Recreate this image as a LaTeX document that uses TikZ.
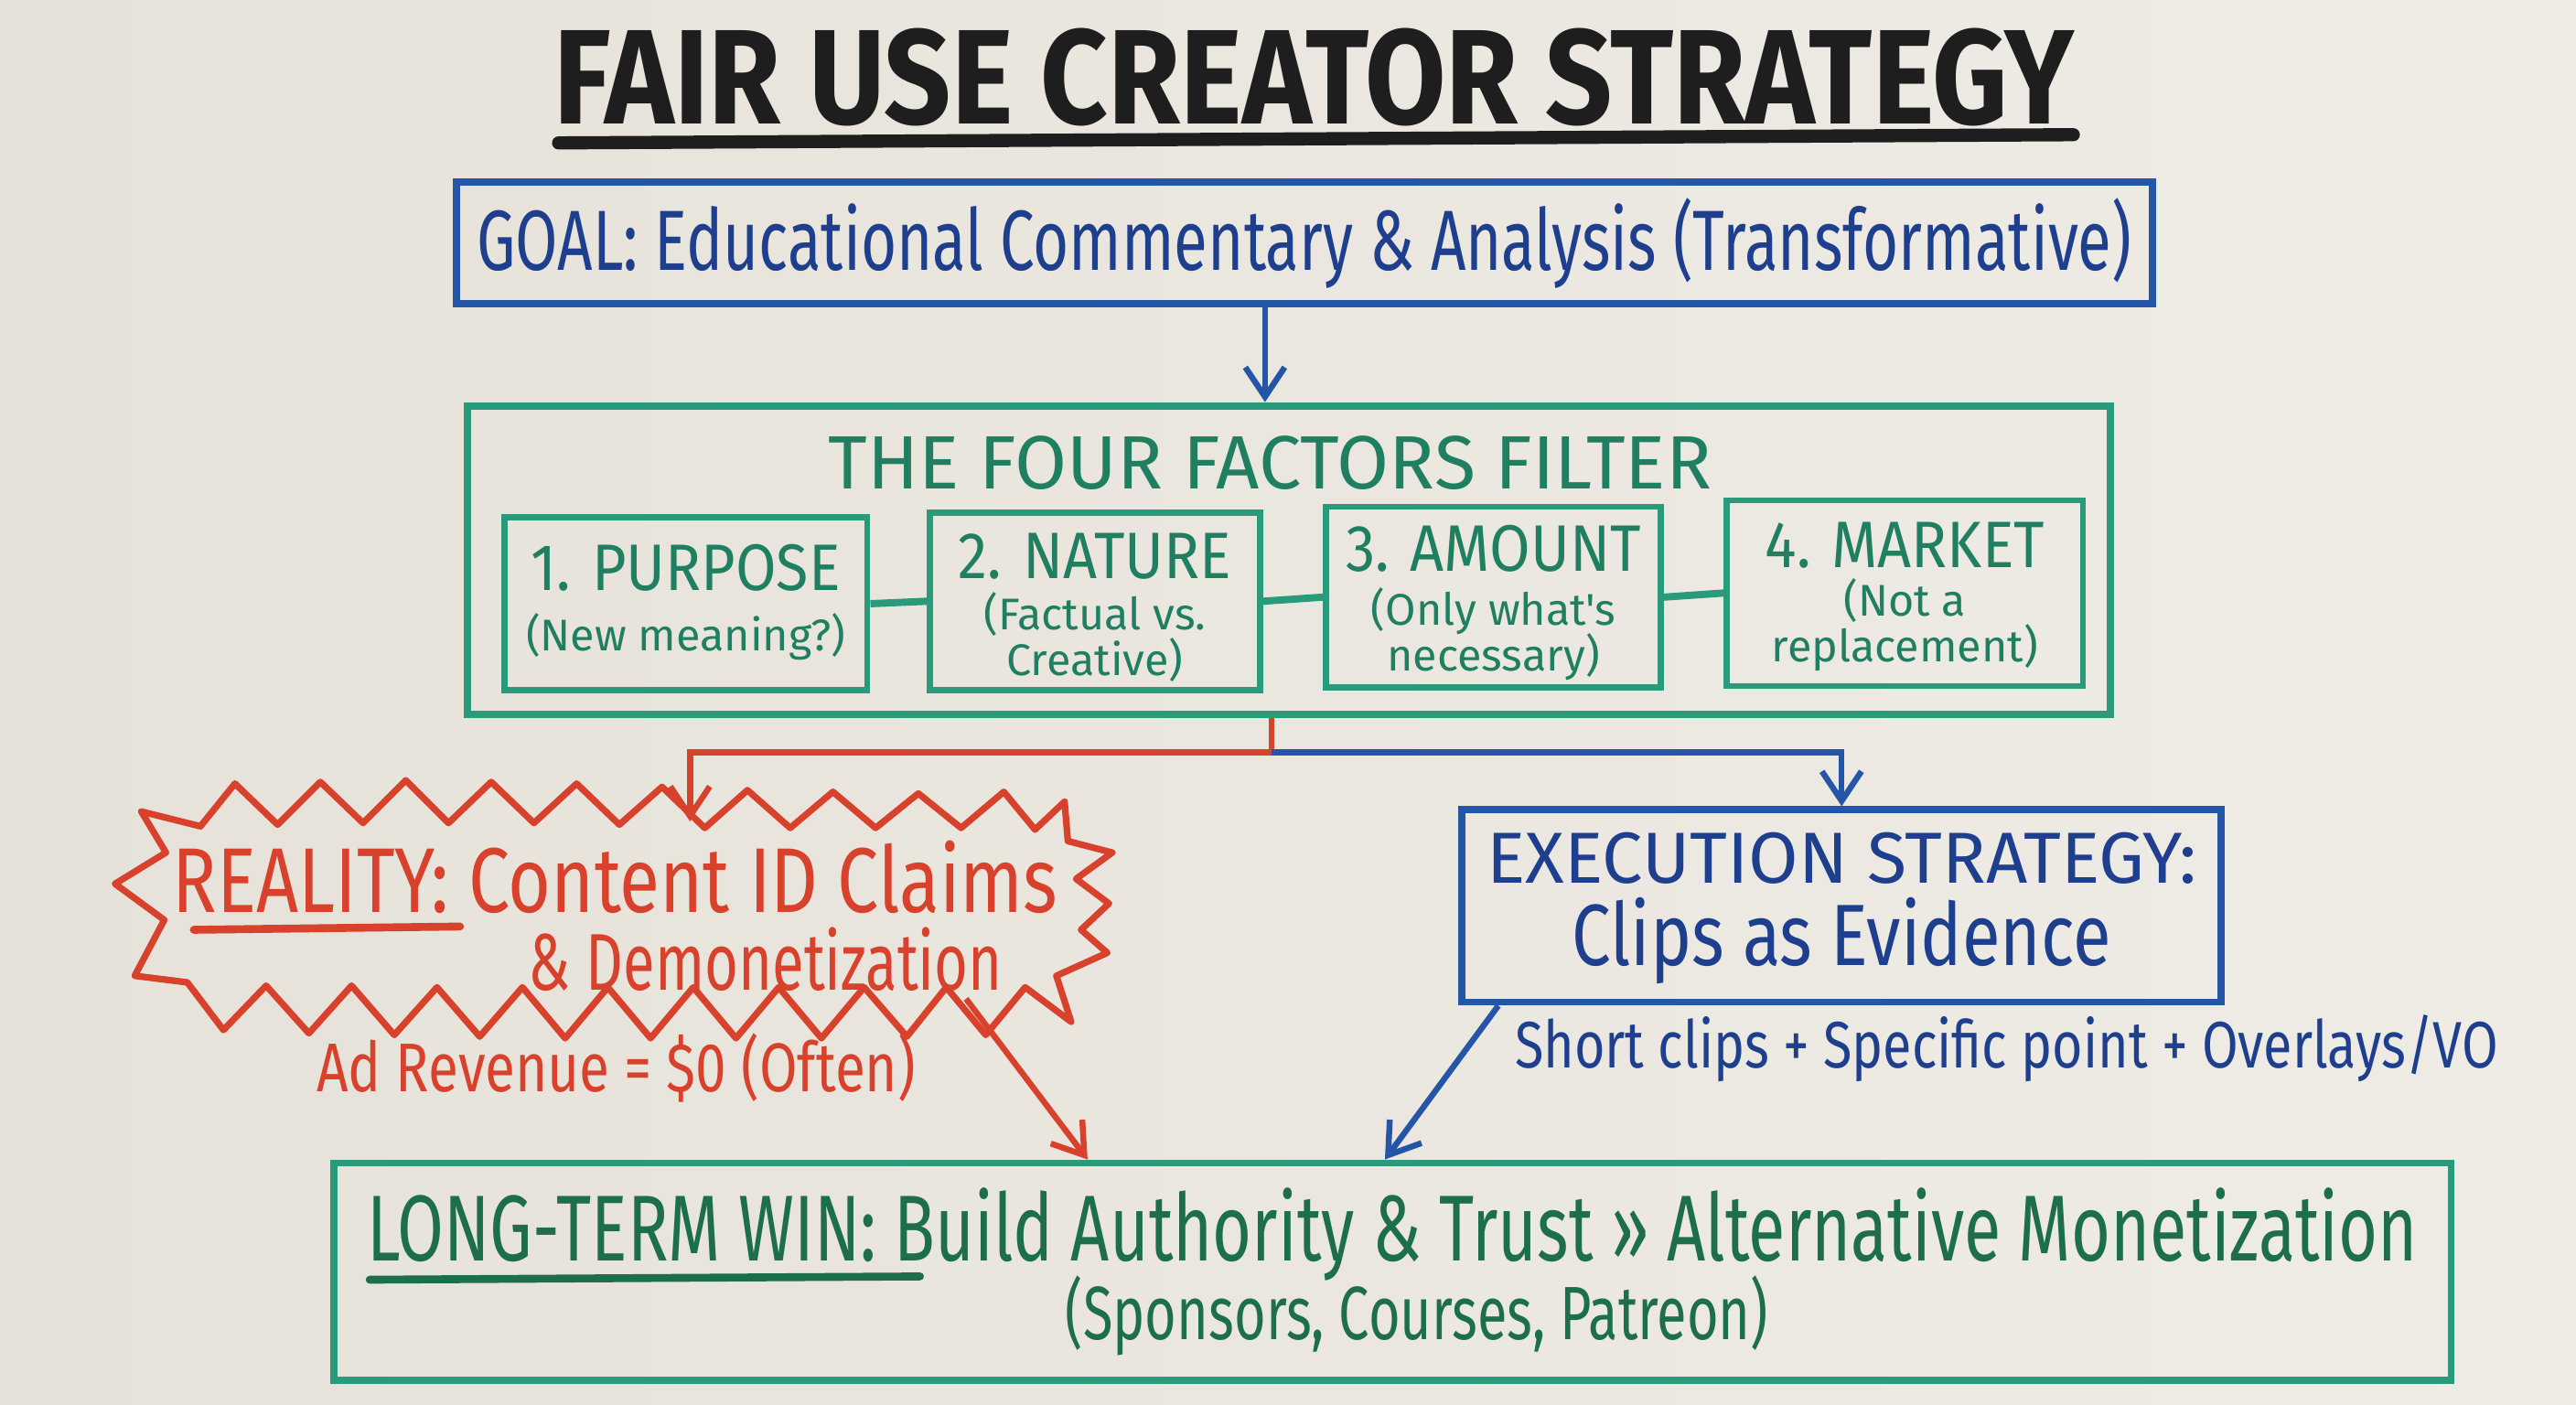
\documentclass[tikz,border=0pt]{standalone}
\usepackage{fontspec}
\setmainfont{Fira Sans}[FakeStretch=0.72]
\newfontfamily\fsB{Fira Sans}[FakeStretch=0.8]
\newfontfamily\fsC{Fira Sans}[FakeStretch=0.9]
\newfontfamily\fsD{Fira Sans}[FakeStretch=1.0]
\newfontfamily\fsT{Fira Sans}[FakeStretch=0.87]
\usetikzlibrary{arrows.meta,calc}
\definecolor{boardl}{HTML}{E6E2D9}
\definecolor{boardr}{HTML}{EFECE6}
\definecolor{ink}{HTML}{1E1E1E}
\definecolor{bbox}{HTML}{2455A6}
\definecolor{btext}{HTML}{1D3F8E}
\definecolor{gbox}{HTML}{2A9B7A}
\definecolor{gtext}{HTML}{1F7F60}
\definecolor{wtext}{HTML}{1D6E4A}
\definecolor{rink}{HTML}{D8412C}
\newcommand\myfs[2]{\fontsize{#1}{#2}\selectfont}
\newcommand\fhd{\fsC\myfs{20}{20}}
\newcommand\tightls{\lineskiplimit -50pt\relax}
\newcommand\subfnt{\fsD\myfs{13.5}{14}\tightls}
\tikzset{
  bigbox/.style={draw=#1, line width=2.2pt, inner sep=0pt},
  fbox/.style={draw=gbox, line width=1.8pt, inner sep=0pt},
  ftext/.style={anchor=north, inner sep=0pt, align=center, text=gtext, font=\subfnt},
  barrow/.style={draw=bbox, line width=1.8pt, -{Straight Barb[length=9pt,width=12pt]}},
  rarrow/.style={draw=rink, line width=1.8pt, -{Straight Barb[length=9pt,width=12pt]}},
  rline/.style={draw=rink, line width=1.8pt},
  gline/.style={draw=gbox, line width=2.2pt},
  uline/.style={line width=2.4pt, line cap=round},
}
\begin{document}
\begin{tikzpicture}[x=0.5pt,y=-0.5pt]
\useasboundingbox (0,0) rectangle (1568,855);
\shade[left color=boardl, right color=boardr] (0,0) rectangle (1568,855);

% title
\node[text=ink, font=\fsT\bfseries\myfs{41}{44}] (title) at (800,47) {FAIR USE CREATOR STRATEGY};
\draw[ink, line width=4pt, line cap=round] (340,87) -- (1262,82);

% goal
\node[bigbox=bbox, minimum width=516pt, minimum height=37pt, text=btext, font=\myfs{26}{30}] (goal) at (794,148) {GOAL: Educational Commentary \& Analysis (Transformative)};

% four factors
\node[bigbox=gbox, minimum width=500pt, minimum height=94pt] (factors) at (784.5,341) {};
\node[text=gtext, font=\fsD\myfs{23}{26}] (ftitle) at (773,282) {THE FOUR FACTORS FILTER};

\node[fbox, minimum width=110.5pt, minimum height=52.5pt] (f1) at (417.5,367.5) {};
\node[fbox, minimum width=100.5pt, minimum height=54pt] (f2) at (666.5,366) {};
\node[fbox, minimum width=102pt, minimum height=55pt] (f3) at (909,363.5) {};
\node[fbox, minimum width=108.5pt, minimum height=56.5pt] (f4) at (1159.5,361) {};
\node[ftext] (f1t) at (417.5,331) {{\fhd 1. PURPOSE}\\[4.5pt](New meaning?)};
\node[ftext] (f2t) at (666.5,324.5) {{\fhd 2. NATURE}\\[1.5pt](Factual vs.\\Creative)};
\node[ftext] (f3t) at (909,319.5) {{\fhd 3. AMOUNT}\\[2.2pt](Only what's\\necessary)};
\node[ftext] (f4t) at (1159.5,317.5) {{\fhd 4. MARKET}\\[0.7pt](Not a\\replacement)};
\draw[gline] (f1.east) -- (f2.west);
\draw[gline] (f2.east) -- (f3.west);
\draw[gline] (f3.east) -- (f4.west);

% goal -> factors
\draw[barrow] ([xshift=-12pt]goal.south) -- ([xshift=-7.25pt]factors.north);

% reality starburst
\draw[rink, line width=2pt, line join=round]
 (86,494) -- (122,503) -- (143,477) -- (169,502) -- (195,476) -- (221,501) -- (247,475) -- (273,501)
 -- (299,476) -- (325,501) -- (351,477) -- (377,502) -- (403,479) -- (429,504) -- (455,481) -- (481,504)
 -- (507,482) -- (533,504) -- (559,483) -- (585,504) -- (611,482) -- (630,505) -- (648,488)
 -- (650,512) -- (677,519) -- (655,535) -- (675,550) -- (658,566) -- (674,580) -- (643,594) -- (652,622)
 -- (624,601) -- (600,630) -- (576,601) -- (552,631) -- (526,601) -- (500,632) -- (474,601) -- (448,632)
 -- (422,601) -- (396,632) -- (370,601) -- (344,632) -- (318,601) -- (292,631) -- (266,601) -- (240,630)
 -- (214,600) -- (188,629) -- (162,600) -- (136,627) -- (114,598) -- (82,594) -- (100,560) -- (70,538)
 -- (101,519) -- cycle;
\node[text=rink, font=\fsB\myfs{28}{30}] (reality) at (374.5,534) {REALITY: Content ID Claims};
\node[text=rink, font=\myfs{24.5}{30}] (reality2) at (466,584) {\& Demonetization};
\draw[rink, uline] (118,566) -- (280,564);
\node[text=rink, font=\fsB\myfs{21}{24}] (adrev) at (375,650) {Ad Revenue = \$0 (Often)};

% execution
\node[bigbox=bbox, minimum width=231pt, minimum height=58.5pt] (exec) at (1121,551.5) {};
\node[align=center, text=btext, font=\fsD\myfs{22}{23}, inner sep=0pt] (exect) at (1121,553) {EXECUTION STRATEGY:\\[2pt]{\fsB\myfs{26.5}{23}Clips as Evidence}};
\node[text=btext, font=\fsB\myfs{20}{24}] (clips) at (1221.5,638) {Short clips + Specific point + Overlays/VO};

% long-term win
\node[bigbox=gbox, minimum width=644.5pt, minimum height=66pt, align=center, text=wtext, font=\myfs{28.5}{26}] (win) at (847.5,774) {LONG-TERM WIN: Build Authority \& Trust » Alternative Monetization\\[-2pt]{\myfs{23}{26}\hspace*{15pt}(Sponsors, Courses, Patreon)}};
\draw[wtext, uline] (225,779) -- (560,777);

% connectors
\coordinate (fork) at (774,458);
\coordinate (burstin) at (420,500);
\coordinate (burstout) at (588,608);
\draw[rline] ([xshift=-5.25pt]factors.south) -- (fork);
\draw[rarrow] (fork) -| (burstin);
\draw[barrow] (fork) -| (exec.north);
\draw[rarrow] (burstout) -- ([xshift=-92.75pt]win.north);
\draw[barrow] ([xshift=-104.5pt]exec.south) -- ([xshift=-2.25pt]win.north);
\end{tikzpicture}
\end{document}
